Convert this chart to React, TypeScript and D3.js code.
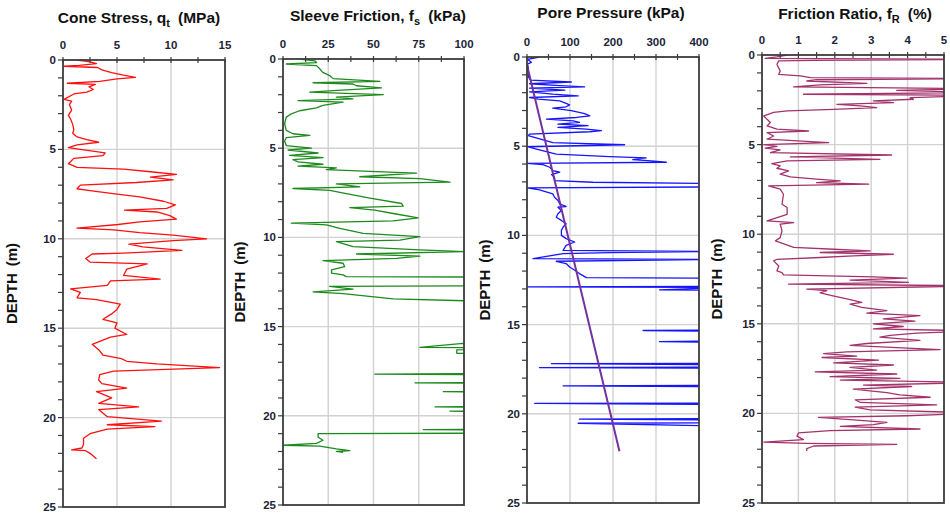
import React from 'react';
import * as d3 from 'd3';

// depth ticks shared by all four panels
const depthTicks = [0, 5, 10, 15, 20, 25];
const coneTicks = [0, 5, 10, 15];
const sleeveTicks = [0, 25, 50, 75, 100];
const poreTicks = [0, 100, 200, 300, 400];
const ratioTicks = [0, 1, 2, 3, 4, 5];

// [depth (m), qt (MPa)]
const coneStress: [number, number][] = [
  [0, 1.3], [0.1, 2.5], [0.2, 3.1], [0.3, 1.5], [0.35, 0.1], [0.42, 3.2], [0.55, 3.6], [0.7, 4.5],
  [0.85, 5.6], [0.97, 6.7], [1.05, 5.0], [1.2, 3.4], [1.3, 0.4], [1.36, 3.0], [1.5, 2.4], [1.65, 2.8],
  [1.8, 2.2], [1.9, 1.0], [2.2, 0.1], [2.3, 0.8], [2.5, 0.6], [2.8, 0.8], [3.1, 0.5], [3.3, 0.7],
  [3.6, 0.9], [3.9, 1.0], [4.1, 0.9], [4.3, 1.3], [4.45, 2.2], [4.6, 3.3], [4.75, 1.3], [4.9, 0.5],
  [5.0, 1.6], [5.2, 3.9], [5.35, 3.7], [5.5, 1.0], [5.8, 0.5], [6.0, 1.3], [6.1, 5.6], [6.25, 8.1],
  [6.4, 10.5], [6.55, 8.1], [6.7, 10.2], [6.85, 6.8], [7.0, 1.6], [7.2, 1.3], [7.3, 2.5], [7.5, 5.0],
  [7.65, 7.1], [7.9, 9.3], [8.1, 10.4], [8.3, 9.6], [8.4, 5.7], [8.5, 8.7], [8.7, 9.9], [8.9, 10.5],
  [9.05, 7.1], [9.2, 5.1], [9.4, 1.3], [9.5, 4.7], [9.65, 7.1], [9.8, 10.2], [10.0, 13.3], [10.1, 10.2],
  [10.3, 6.1], [10.45, 7.4], [10.65, 11.0], [10.8, 5.6], [10.85, 2.7], [11.1, 2.1], [11.3, 2.5], [11.4, 7.8],
  [11.7, 5.9], [12.05, 5.6], [12.25, 9.0], [12.35, 4.4], [12.6, 4.1], [12.8, 0.7], [13.0, 1.6], [13.3, 1.3],
  [13.4, 3.1], [13.65, 5.3], [13.95, 5.0], [14.2, 4.5], [14.5, 3.7], [14.7, 5.0], [15.0, 4.8], [15.35, 5.9],
  [15.5, 4.4], [15.9, 2.7], [16.2, 3.3], [16.5, 3.7], [16.7, 5.4], [16.85, 5.9], [17.0, 8.7], [17.2, 14.5],
  [17.4, 4.7], [17.6, 3.4], [17.9, 3.3], [18.1, 3.6], [18.35, 5.9], [18.55, 3.1], [18.9, 4.5], [19.2, 3.3],
  [19.4, 7.0], [19.55, 3.3], [19.95, 4.1], [20.2, 9.1], [20.4, 4.1], [20.5, 8.5], [20.65, 4.1], [20.9, 2.5],
  [21.15, 1.9], [21.5, 1.9], [21.7, 1.75], [21.8, 0.8], [21.85, 2.1], [22.0, 2.5], [22.15, 2.8], [22.3, 3.1],
];

// [depth (m), fs (kPa)]
const sleeveFriction: [number, number][] = [
  [0, 9], [0.1, 17.5], [0.2, 18.5], [0.28, 1.8], [0.37, 18.5], [0.55, 20.3], [0.75, 22], [0.93, 25.8],
  [1.1, 27.7], [1.25, 53.5], [1.33, 16.6], [1.4, 38.7], [1.5, 40.6], [1.62, 54.4], [1.77, 27.7], [1.86, 14.8],
  [2.0, 55.4], [2.14, 29.5], [2.23, 38.7], [2.33, 8.3], [2.42, 33.2], [2.6, 22.1], [2.74, 18.5], [2.9, 9.2],
  [3.07, 4.6], [3.26, 1.8], [3.63, 0.9], [4.0, 1.8], [4.19, 5.5], [4.28, 14.8], [4.41, 1.8], [4.6, 0.9],
  [4.85, 1.8], [5.0, 15.7], [5.1, 2.8], [5.27, 19.4], [5.4, 3.7], [5.53, 22.1], [5.64, 5.5], [5.77, 8.3],
  [5.9, 22.1], [6.0, 8.3], [6.1, 29.5], [6.2, 24], [6.3, 48], [6.4, 73.8], [6.6, 42.4], [6.7, 75.6],
  [6.9, 92.3], [7.0, 29.5], [7.17, 42.4], [7.26, 5.5], [7.36, 25.8], [7.55, 35], [7.8, 48], [8.1, 65.5],
  [8.25, 66.4], [8.33, 36.9], [8.47, 50.7], [8.66, 60.9], [8.9, 74.7], [9.07, 60.9], [9.2, 4.6], [9.3, 24],
  [9.5, 31.4], [9.78, 44.3], [9.96, 75.6], [10.15, 64.6], [10.24, 29.5], [10.52, 38.7], [10.7, 75.6], [10.8, 100],
  [10.93, 40.6], [11.05, 75.6], [11.18, 62.7], [11.3, 22.1], [11.45, 33.2], [11.64, 34.1], [11.82, 26.8], [12.0, 26.8],
  [12.1, 33.2], [12.2, 35], [12.23, 130], [12.7, 130], [12.75, 25.8], [12.9, 38.7], [13.05, 16.6], [13.15, 33.2],
  [13.45, 60.9], [13.63, 130], [15.9, 130], [15.95, 98], [16.16, 75.6], [16.2, 130], [16.3, 96], [16.5, 96],
  [16.55, 130], [17.62, 130], [17.66, 50.7], [17.7, 130], [18.12, 130], [18.15, 72.9], [18.2, 130], [18.62, 130],
  [18.65, 88.6], [18.7, 130], [19.47, 130], [19.5, 84], [19.55, 130], [19.72, 130], [19.74, 92.3], [19.78, 130],
  [20.74, 130], [20.77, 77.5], [20.8, 130], [20.97, 130], [21.0, 19.4], [21.2, 19.4], [21.37, 22.1], [21.55, 18.5],
  [21.65, 0], [21.7, 20.3], [21.85, 29.5], [21.95, 36.9], [22.0, 29.5], [22.05, 33.2],
];

// [depth (m), u2 (kPa)]
const porePressure: [number, number][] = [
  [0, 29], [0.13, 1], [0.3, 10], [0.4, 1], [0.6, 3], [1.1, 3], [1.3, 8], [1.4, 103], [1.5, 6], [1.6, 76],
  [1.68, 134], [1.75, 6], [1.86, 88], [1.95, 6], [2.08, 60], [2.18, 119], [2.27, 6], [2.36, 26], [2.46, 76],
  [2.6, 91], [2.68, 99], [2.79, 91], [2.87, 60], [3.0, 103], [3.17, 134], [3.3, 146], [3.39, 115], [3.48, 45],
  [3.58, 107], [3.67, 122], [3.76, 72], [3.85, 142], [3.95, 72], [4.04, 138], [4.13, 173], [4.19, 146], [4.32, 6],
  [4.41, 3], [4.8, 60], [4.92, 227], [5.03, 1], [5.16, 22], [5.44, 68], [5.58, 192], [5.66, 277], [5.75, 246],
  [5.81, 281], [5.9, 324], [5.96, 1], [6.03, 37], [6.18, 53], [6.37, 60], [6.46, 76], [6.59, 57], [6.74, 64],
  [6.93, 64], [7.02, 153], [7.1, 450], [7.28, 450], [7.34, 1], [7.45, 29], [7.67, 60], [7.86, 64], [8.04, 72],
  [8.23, 76], [8.38, 91], [8.42, 72], [8.6, 80], [8.79, 72], [8.98, 68], [9.16, 80], [9.35, 91], [9.53, 84],
  [9.72, 80], [10.0, 80], [10.18, 91], [10.37, 111], [10.56, 91], [10.84, 84], [10.9, 450], [10.97, 192],
  [11.02, 84], [11.3, 14], [11.35, 450], [11.45, 68], [11.58, 91], [11.77, 99], [11.95, 111], [12.14, 122],
  [12.37, 138], [12.4, 450], [12.86, 450], [12.88, 1], [12.92, 450], [13.05, 308], [13.08, 450], [15.3, 450],
  [15.33, 270], [15.38, 450], [15.92, 450], [15.95, 308], [16.0, 450], [17.17, 450], [17.19, 57], [17.25, 450],
  [17.38, 450], [17.41, 29], [17.45, 450], [18.4, 450], [18.43, 84], [18.48, 450], [19.4, 450], [19.42, 18],
  [19.47, 450], [20.27, 450], [20.3, 122], [20.35, 450], [20.5, 450], [20.53, 119], [20.68, 450],
];

// [depth (m), u0 (kPa)]
const hydrostatic: [number, number][] = [[0.45, 0], [22.1, 215]];

// [depth (m), fR (%)]
const frictionRatio: [number, number][] = [
  [0, 0.69], [0.11, 0.41], [0.19, 0.09], [0.24, 6], [0.3, 1.42], [0.33, 0.46], [0.52, 0.41], [0.9, 0.5],
  [1.08, 0.46], [1.17, 1.05], [1.26, 1.33], [1.32, 6], [1.38, 1.5], [1.45, 1.23], [1.58, 2.88], [1.67, 1.6],
  [1.78, 0.87], [1.88, 6], [1.97, 3.7], [2.1, 6], [2.19, 1.14], [2.25, 6], [2.38, 4.07], [2.47, 4.16],
  [2.56, 3.06], [2.66, 3.61], [2.75, 2.06], [2.84, 2.7], [2.94, 3.15], [3.03, 1.97], [3.12, 0.69], [3.2, 0.32],
  [3.4, 0.05], [3.59, 0.14], [3.77, 0.23], [3.96, 0.14], [4.14, 0.41], [4.24, 1.28], [4.33, 0.14], [4.52, 0.32],
  [4.7, 0.14], [4.89, 1.83], [5.0, 0.05], [5.1, 0.41], [5.2, 0.09], [5.3, 0.5], [5.45, 0.23], [5.58, 3.56],
  [5.69, 0.78], [5.82, 3.24], [5.91, 0.69], [6.06, 0.27], [6.19, 0.5], [6.32, 0.41], [6.47, 0.73], [6.65, 0.5],
  [6.8, 0.78], [6.93, 1.5], [7.02, 2.15], [7.12, 1.5], [7.21, 2.93], [7.3, 0.18], [7.49, 0.5], [7.77, 0.59],
  [8.33, 0.55], [8.51, 0.69], [8.89, 0.69], [9.26, 0.14], [9.35, 0.87], [9.44, 0.5], [9.81, 0.55], [10.19, 0.5],
  [10.37, 0.37], [10.74, 0.87], [10.84, 1.97], [10.93, 2.97], [11.02, 1.6], [11.12, 3.61], [11.21, 2.51], [11.3, 1.6],
  [11.4, 0.41], [11.49, 0.32], [11.77, 0.46], [12.05, 0.41], [12.14, 0.55], [12.27, 0.59], [12.38, 3.06], [12.45, 3.98],
  [12.56, 2.42], [12.69, 4.02], [12.79, 0.73], [12.88, 6], [13.06, 1.23], [13.15, 1.78], [13.28, 1.6], [13.43, 1.92],
  [13.61, 2.33], [13.8, 2.74], [13.9, 2.42], [14.08, 2.74], [14.26, 3.43], [14.4, 2.88], [14.54, 4.34], [14.72, 3.33],
  [14.85, 4.2], [15.0, 3.06], [15.15, 3.88], [15.28, 3.06], [15.4, 6], [15.52, 4.25], [15.65, 3.52], [15.74, 3.24],
  [15.92, 4.34], [16.1, 2.88], [16.2, 2.42], [16.33, 3.7], [16.44, 4.89], [16.57, 2.33], [16.66, 1.69], [16.8, 2.6],
  [16.88, 1.65], [17.03, 3.2], [17.18, 1.97], [17.3, 3.61], [17.43, 2.42], [17.58, 3.15], [17.68, 1.46], [17.8, 3.7],
  [17.95, 1.87], [18.04, 3.79], [18.14, 2.15], [18.27, 6], [18.42, 2.79], [18.5, 4.11], [18.65, 2.51], [18.84, 3.43],
  [18.97, 3.79], [19.1, 4.62], [19.24, 2.56], [19.39, 2.7], [19.52, 4.8], [19.65, 2.56], [19.8, 2.97], [19.98, 6],
  [20.13, 3.98], [20.22, 1.55], [20.35, 2.42], [20.5, 3.43], [20.63, 3.06], [20.72, 2.15], [20.87, 4.34], [20.96, 1.87],
  [21.09, 1.0], [21.27, 0.96], [21.46, 1.14], [21.6, 0.05], [21.67, 1.23], [21.73, 3.7], [21.82, 1.42], [21.97, 1.23],
  [22.1, 1.23],
];

type Series = { data: [number, number][]; color: string; width: number };
type Panel = {
  id: string;
  title: string;
  sub?: string;
  unit: string;
  ticks: number[];
  series: Series[];
  box: { left: number; right: number; top: number; bottom: number };
  titleX: number;
  titleY: number;
  depthX: number;
};

const panels: Panel[] = [
  {
    id: 'qt', title: 'Cone Stress, q', sub: 't', unit: '(MPa)', ticks: coneTicks,
    series: [{ data: coneStress, color: '#ff1010', width: 1.3 }],
    box: { left: 63, right: 225, top: 60, bottom: 507 }, titleX: 139, titleY: 23, depthX: 17,
  },
  {
    id: 'fs', title: 'Sleeve Friction, f', sub: 's', unit: '(kPa)', ticks: sleeveTicks,
    series: [{ data: sleeveFriction, color: '#1d8a1d', width: 1.3 }],
    box: { left: 283, right: 464, top: 59, bottom: 505 }, titleX: 378, titleY: 21, depthX: 245,
  },
  {
    id: 'u2', title: 'Pore Pressure (kPa)', unit: '', ticks: poreTicks,
    series: [
      { data: porePressure, color: '#1515ff', width: 1.3 },
      { data: hydrostatic, color: '#7232a0', width: 2 },
    ],
    box: { left: 527, right: 699, top: 57, bottom: 503 }, titleX: 611, titleY: 18, depthX: 490,
  },
  {
    id: 'fr', title: 'Friction Ratio, f', sub: 'R', unit: '(%)', ticks: ratioTicks,
    series: [{ data: frictionRatio, color: '#a3336c', width: 1.3 }],
    box: { left: 762, right: 944, top: 55, bottom: 503 }, titleX: 855, titleY: 19, depthX: 722,
  },
];

const font = '"Liberation Sans", Arial, sans-serif';

function Track({ p }: { p: Panel }) {
  const { left, right, top, bottom } = p.box;
  const xMax = p.ticks[p.ticks.length - 1];
  const x = d3.scaleLinear().domain([0, xMax]).range([left, right]);
  const y = d3.scaleLinear().domain([0, 25]).range([top, bottom]);
  const line = d3.line<[number, number]>().x((d) => x(d[1])).y((d) => y(d[0]));
  const step = p.ticks[1] - p.ticks[0];
  const minorX = d3.range(0, xMax + 1e-9, step / 2);
  const minorY = d3.range(0, 26, 1);
  const midY = (top + bottom) / 2;

  return (
    <g>
      <defs>
        <clipPath id={`clip-${p.id}`}>
          <rect x={left} y={top} width={right - left} height={bottom - top} />
        </clipPath>
      </defs>
      {/* grid */}
      {p.ticks.slice(1, -1).map((t) => (
        <line key={`gx${t}`} x1={x(t)} x2={x(t)} y1={top} y2={bottom} stroke="#d2d2d2" strokeWidth={1.4} />
      ))}
      {depthTicks.slice(1, -1).map((t) => (
        <line key={`gy${t}`} x1={left} x2={right} y1={y(t)} y2={y(t)} stroke="#d2d2d2" strokeWidth={1.4} />
      ))}
      {/* traces */}
      <g clipPath={`url(#clip-${p.id})`}>
        {p.series.map((s, i) => (
          <path key={i} d={line(s.data) ?? ''} fill="none" stroke={s.color} strokeWidth={s.width}
            strokeLinejoin="round" />
        ))}
      </g>
      {/* frame */}
      <rect x={left} y={top} width={right - left} height={bottom - top} fill="none" stroke="#3c3c3c" strokeWidth={1.8} />
      {/* ticks */}
      {minorX.map((t) => (
        <line key={`tx${t}`} x1={x(t)} x2={x(t)} y1={top - 3} y2={top + 3} stroke="#3c3c3c" strokeWidth={1.2} />
      ))}
      {minorY.map((t) => (
        <line key={`ty${t}`} x1={left - 5} x2={left} y1={y(t)} y2={y(t)} stroke="#3c3c3c" strokeWidth={1.2} />
      ))}
      {p.ticks.map((t) => (
        <text key={`lx${t}`} x={x(t)} y={top - 11} textAnchor="middle" fontSize={11.5} fontWeight="bold"
          fill="#1c2436" fontFamily={font}>{t}</text>
      ))}
      {depthTicks.map((t) => (
        <text key={`ly${t}`} x={left - 7} y={y(t) + 4} textAnchor="end" fontSize={11.5} fontWeight="bold"
          fill="#1c2436" fontFamily={font}>{t}</text>
      ))}
      {/* titles */}
      <text x={p.titleX} y={p.titleY} textAnchor="middle" fontSize={15.5} fontWeight="bold" fill="#111"
        fontFamily={font}>
        {p.title}
        {p.sub && <tspan fontSize={11} dy={4}>{p.sub}</tspan>}
        {p.unit && <tspan dy={p.sub ? -4 : 0} dx={8}>{p.unit}</tspan>}
      </text>
      <text transform={`translate(${p.depthX},${midY}) rotate(-90)`} textAnchor="middle" fontSize={15}
        fontWeight="bold" fill="#111" fontFamily={font}>
        DEPTH<tspan dx={7}>(m)</tspan>
      </text>
    </g>
  );
}

export default function App() {
  return (
    <svg width={950} height={517} style={{ position: 'absolute', left: 0, top: 0, background: '#fff' }}>
      <rect width={950} height={517} fill="#fff" />
      {panels.map((p) => (
        <Track key={p.id} p={p} />
      ))}
    </svg>
  );
}
